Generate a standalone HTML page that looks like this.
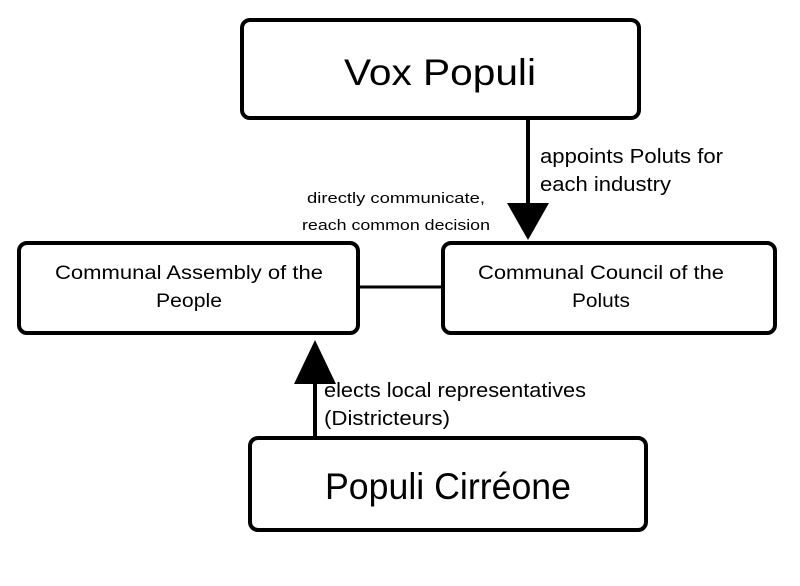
<!DOCTYPE html>
<html><head><meta charset="utf-8"><style>
html,body{margin:0;padding:0;background:#fff;width:800px;height:586px;overflow:hidden}
text{font-family:"Liberation Sans",sans-serif;fill:#000}
</style></head><body>
<svg width="800" height="586" viewBox="0 0 800 586" xmlns="http://www.w3.org/2000/svg">
<g fill="#fff" stroke="#000" stroke-width="4">
<rect x="242" y="20" width="397" height="98" rx="8"/>
<rect x="19" y="243" width="339" height="90" rx="8"/>
<rect x="443" y="243" width="332" height="90" rx="8"/>
<rect x="250" y="438" width="396" height="92" rx="8"/>
</g>
<line x1="358" y1="287" x2="443" y2="287" stroke="#000" stroke-width="3"/>
<line x1="528" y1="118" x2="528" y2="210" stroke="#000" stroke-width="4"/>
<polygon points="507,203 549,203 528,240" fill="#000"/>
<line x1="315" y1="438" x2="315" y2="380" stroke="#000" stroke-width="4"/>
<polygon points="294,384 336,384 315,340" fill="#000"/>
<text x="440" y="85" font-size="37" text-anchor="middle" textLength="192" lengthAdjust="spacingAndGlyphs">Vox Populi</text>
<text x="448" y="499" font-size="37" text-anchor="middle" textLength="246" lengthAdjust="spacingAndGlyphs">Populi Cirréone</text>
<text x="540" y="163" font-size="20" textLength="183" lengthAdjust="spacingAndGlyphs">appoints Poluts for</text>
<text x="540" y="191" font-size="20" textLength="131" lengthAdjust="spacingAndGlyphs">each industry</text>
<text x="396" y="203" font-size="15" text-anchor="middle" textLength="178" lengthAdjust="spacingAndGlyphs">directly communicate,</text>
<text x="396" y="230" font-size="15" text-anchor="middle" textLength="188" lengthAdjust="spacingAndGlyphs">reach common decision</text>
<text x="189" y="279" font-size="19" text-anchor="middle" textLength="268" lengthAdjust="spacingAndGlyphs">Communal Assembly of the</text>
<text x="189" y="307" font-size="19" text-anchor="middle" textLength="66" lengthAdjust="spacingAndGlyphs">People</text>
<text x="601" y="279" font-size="19" text-anchor="middle" textLength="246" lengthAdjust="spacingAndGlyphs">Communal Council of the</text>
<text x="601" y="307" font-size="19" text-anchor="middle" textLength="58" lengthAdjust="spacingAndGlyphs">Poluts</text>
<text x="324" y="397" font-size="20" textLength="262" lengthAdjust="spacingAndGlyphs">elects local representatives</text>
<text x="324" y="425" font-size="20" textLength="126" lengthAdjust="spacingAndGlyphs">(Districteurs)</text>
</svg>
</body></html>
